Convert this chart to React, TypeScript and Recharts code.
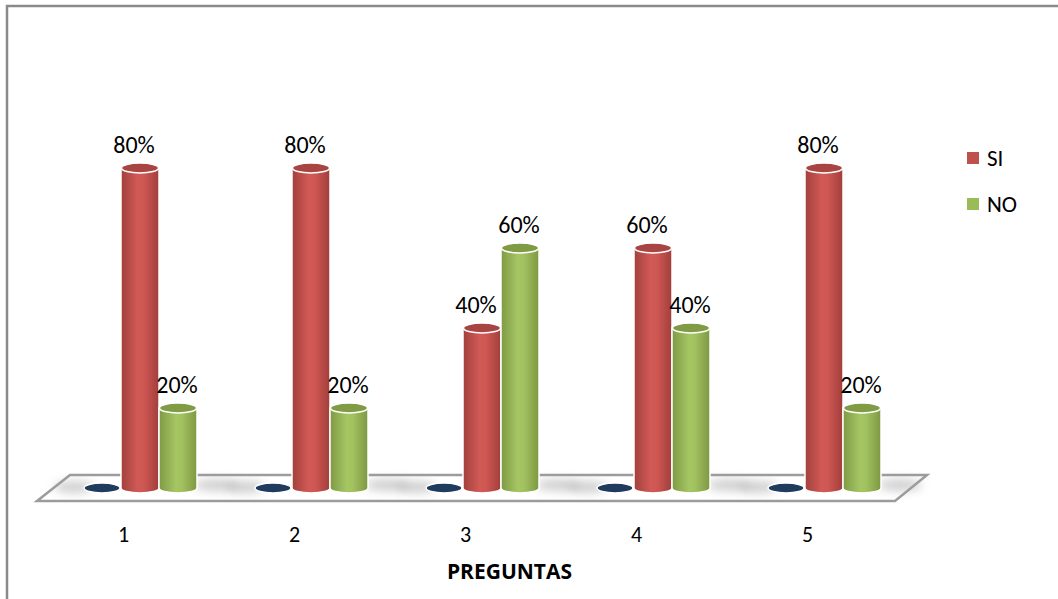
import React from 'react';
import * as R from 'recharts';

const { BarChart, Bar, XAxis, YAxis, LabelList } = R as any;

// ---- data ----
const categories = ['1', '2', '3', '4', '5'];
const baseValues = [0, 0, 0, 0, 0];
const siValues = [80, 80, 40, 60, 80];
const noValues = [20, 20, 60, 40, 20];
const legendItems = [
  { name: 'SI', color: '#C0504D' },
  { name: 'NO', color: '#9BBB59' },
];
const axisTitle = 'PREGUNTAS';

const data = categories.map((c, i) => ({
  name: c,
  base: baseValues[i],
  si: siValues[i],
  no: noValues[i],
}));

const CHART_W = 1058;
const CHART_H = 599;
const MARGIN = { top: 88, right: 149, bottom: 0, left: 54 };
const XAXIS_H = 111;

const FONT = 'Carlito, Lato, "Open Sans", sans-serif';
const TITLE_FONT = '"Open Sans", sans-serif';

const makeCylinder = (gradId: string, topFill: string) => (props: any) => {
  const x = Number(props.x);
  const y = Number(props.y);
  const width = Number(props.width);
  const height = Number(props.height);
  if (!isFinite(x) || !isFinite(y)) return null;
  const ry = 5;
  const rx = width / 2;
  const cx = x + rx;
  const bottom = y + height;
  const d = `M${x},${y} L${x},${bottom} A${rx},${ry} 0 0 0 ${x + width},${bottom} L${x + width},${y} A${rx},${ry} 0 0 0 ${x},${y} Z`;
  return (
    <g>
      <path d={d} fill={`url(#${gradId})`} stroke="#ffffff" strokeWidth={1.5} />
      <ellipse cx={cx} cy={y} rx={rx - 0.5} ry={ry} fill={topFill} stroke="#ffffff" strokeWidth={1.5} />
    </g>
  );
};

const BaseDisc = (props: any) => {
  const x = Number(props.x);
  const y = Number(props.y);
  const width = Number(props.width);
  if (!isFinite(x) || !isFinite(y)) return null;
  const cx = x + width / 2;
  const groupCx = cx + 38;
  return (
    <g>
      <ellipse cx={groupCx - 66} cy={y - 1} rx={20} ry={6} fill="#a0a0a0" opacity={0.5} filter="url(#shadowBlur)" />
      <ellipse cx={groupCx + 76} cy={y - 3} rx={22} ry={6} fill="#a0a0a0" opacity={0.5} filter="url(#shadowBlur)" />
      <ellipse cx={cx} cy={y} rx={width / 2 - 1} ry={5} fill="#1F3B5E" stroke="#ffffff" strokeWidth={1.5} />
    </g>
  );
};

const Floor = () => {
  const useOffset = (R as any).useOffset;
  const useChartWidth = (R as any).useChartWidth;
  const useChartHeight = (R as any).useChartHeight;
  const offset = useOffset ? useOffset() : null;
  const cw = useChartWidth ? useChartWidth() : CHART_W;
  const ch = useChartHeight ? useChartHeight() : CHART_H;
  const oLeft = offset && isFinite(offset.left) ? offset.left : MARGIN.left;
  const oRight = offset && isFinite(offset.right) ? offset.right : MARGIN.right;
  const oBottom = offset && isFinite(offset.bottom) ? offset.bottom : MARGIN.bottom + XAXIS_H;
  const W = isFinite(cw) ? cw : CHART_W;
  const H = isFinite(ch) ? ch : CHART_H;
  const left = oLeft;
  const right = W - oRight;
  const bottom = H - oBottom;
  const pts = [
    [left - 17, bottom + 13],
    [left + 16, bottom - 13],
    [right + 18, bottom - 13],
    [right - 14, bottom + 13],
  ]
    .map((p) => p.join(','))
    .join(' ');
  return (
    <g>
      <defs>
        <linearGradient id="gradRed" x1="0" y1="0" x2="1" y2="0">
          <stop offset="0" stopColor="#A2403D" />
          <stop offset="0.45" stopColor="#D25A56" />
          <stop offset="0.6" stopColor="#CF5753" />
          <stop offset="1" stopColor="#A13E3B" />
        </linearGradient>
        <linearGradient id="gradGreen" x1="0" y1="0" x2="1" y2="0">
          <stop offset="0" stopColor="#7E9A44" />
          <stop offset="0.45" stopColor="#A6C664" />
          <stop offset="0.6" stopColor="#A2C260" />
          <stop offset="1" stopColor="#7D9842" />
        </linearGradient>
        <filter id="shadowBlur" x="-50%" y="-100%" width="200%" height="300%">
          <feGaussianBlur stdDeviation="5" />
        </filter>
      </defs>
      <polyline points={`7,${H + 50} 7,6 ${W + 50},6`} fill="none" stroke="#8a8a8a" strokeWidth={2.5} />
      <polygon points={pts} fill="#ffffff" stroke="#9c9c9c" strokeWidth={2.5} strokeLinejoin="miter" />
    </g>
  );
};

const renderTick = (props: any) => {
  const { x, y, payload } = props;
  return (
    <text x={Number(x) - 16} y={Number(y) + 54} textAnchor="middle" fontSize={22} fontFamily={FONT} fill="#000">
      {payload.value}
    </text>
  );
};

const makeLabel = (dx: number) => (props: any) => {
  const x = Number(props.x);
  const y = Number(props.y);
  const width = Number(props.width);
  return (
    <text x={x + width / 2 + dx} y={y - 15} textAnchor="middle" fontSize={24} fontFamily={FONT} fill="#000">
      {props.value}%
    </text>
  );
};

const renderAxisTitle = (props: any) => {
  const vb = props.viewBox || {};
  return (
    <text
      x={Number(vb.x) + Number(vb.width) / 2 + 28}
      y={Number(vb.y) + 91}
      textAnchor="middle"
      fontSize={21}
      fontWeight="bold"
      fontFamily={TITLE_FONT}
      fill="#000"
    >
      {axisTitle}
    </text>
  );
};

export default function App() {
  return (
    <div style={{ position: 'fixed', left: 0, top: 0, width: CHART_W, height: CHART_H, background: '#fff', overflow: 'hidden' }}>
      <div style={{ position: 'absolute', left: 0, top: 0 }}>
        <BarChart
          width={CHART_W}
          height={CHART_H}
          data={data}
          margin={MARGIN}
          barSize={38}
          barGap={0}
        >
          <Floor />
          <XAxis
            dataKey="name"
            height={XAXIS_H}
            axisLine={false}
            tickLine={false}
            tickSize={0}
            tickMargin={0}
            tick={renderTick}
            interval={0}
            label={{ content: renderAxisTitle }}
          />
          <YAxis hide domain={[0, 100]} width={0} />
          <Bar dataKey="base" isAnimationActive={false} shape={BaseDisc} />
          <Bar dataKey="si" isAnimationActive={false} shape={makeCylinder('gradRed', '#A84442')}>
            <LabelList dataKey="si" content={makeLabel(-6)} />
          </Bar>
          <Bar dataKey="no" isAnimationActive={false} shape={makeCylinder('gradGreen', '#7F9B43')}>
            <LabelList dataKey="no" content={makeLabel(-1)} />
          </Bar>
        </BarChart>
      </div>
      {legendItems.map((it, i) => (
        <div
          key={it.name}
          style={{
            position: 'absolute',
            left: 967,
            top: 146 + i * 46,
            height: 24,
            display: 'flex',
            alignItems: 'center',
            fontFamily: FONT,
            fontSize: 23,
            color: '#000',
          }}
        >
          <span style={{ display: 'inline-block', width: 12, height: 12, background: it.color, marginRight: 8 }} />
          <span>{it.name}</span>
        </div>
      ))}
    </div>
  );
}
